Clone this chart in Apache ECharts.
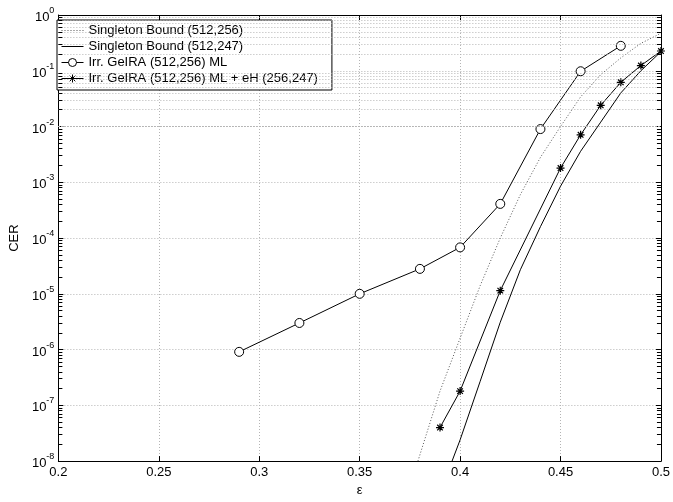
<!DOCTYPE html>
<html>
<head>
<meta charset="utf-8">
<script src="https://cdn.jsdelivr.net/npm/echarts@6/dist/echarts.min.js"></script>
<style>
  html, body { margin: 0; padding: 0; background: #fff; }
  #main { width: 673px; height: 502px; }
</style>
</head>
<body>
<div id="main"></div>
<script>
// series
var names = ['Singleton Bound (512,256)', 'Singleton Bound (512,247)',
             'Irr. GeIRA (512,256) ML', 'Irr. GeIRA (512,256) ML + eH (256,247)'];

var sb256X = [0.379, 0.39, 0.40, 0.41, 0.42, 0.43, 0.44, 0.45, 0.46, 0.47, 0.48, 0.49, 0.50];
var sb256Y = [1e-8, 1.8e-7, 1.6e-6, 1.4e-5, 1.0e-4, 6.0e-4, 2.8e-3, 0.010, 0.034, 0.085, 0.17, 0.31, 0.47];

var sb247X = [0.396, 0.40, 0.41, 0.42, 0.43, 0.44, 0.45, 0.46, 0.47, 0.48, 0.49, 0.50];
var sb247Y = [1e-8, 2.4e-8, 2.7e-7, 3.1e-6, 2.7e-5, 1.6e-4, 8.5e-4, 3.6e-3, 0.012, 0.040, 0.10, 0.22];

var mlX = [0.29, 0.32, 0.35, 0.38, 0.40, 0.42, 0.44, 0.46, 0.48];
var mlY = [9.1e-7, 3.0e-6, 1.0e-5, 2.8e-5, 6.8e-5, 4.1e-4, 9.0e-3, 0.098, 0.28];

var ehX = [0.39, 0.40, 0.42, 0.45, 0.46, 0.47, 0.48, 0.49, 0.50];
var ehY = [4.0e-8, 1.8e-7, 1.14e-5, 1.8e-3, 7.1e-3, 0.024, 0.062, 0.124, 0.226];

function zip(xs, ys) {
  return xs.map(function (x, i) { return [x, ys[i]]; });
}

// minor log grid (2..9 x 10^k) and the little inside ticks
var minorVals = [];
for (var k = -8; k < 0; k++) {
  for (var m = 2; m <= 9; m++) minorVals.push(m * Math.pow(10, k));
}
var gridStyle = { color: '#b4b4b4', type: [1, 2], width: 1 };
var minorGrid = minorVals.map(function (v) { return { yAxis: v }; });
var minorTicks = [];
minorVals.forEach(function (v) {
  minorTicks.push([{ coord: [0.2, v] }, { coord: [0.202, v] }]);
  minorTicks.push([{ coord: [0.498, v] }, { coord: [0.5, v] }]);
});

var font = 'Liberation Sans, Arial, Helvetica, sans-serif';
var starPath = 'path://M5 0L5 10M0 5L10 5M1.5 1.5L8.5 8.5M1.5 8.5L8.5 1.5';

var chart = echarts.init(document.getElementById('main'));
chart.setOption({
  animation: false,
  textStyle: { fontFamily: font, color: '#000' },
  grid: { left: 53, right: 7, top: 15, bottom: 29 },
  legend: {
    orient: 'vertical',
    left: 57, top: 20,
    padding: [4, 14, 5, 4],
    itemWidth: 22, itemHeight: 10, itemGap: 3,
    backgroundColor: '#fff',
    borderColor: '#000', borderWidth: 1, borderRadius: 0,
    lineStyle: { width: 1 },
    itemStyle: { borderWidth: 1 },
    textStyle: { fontSize: 13, color: '#000', fontFamily: font },
    data: [
      { name: names[0], itemStyle: { opacity: 0 } },
      { name: names[1], itemStyle: { opacity: 0 } },
      { name: names[2] },
      { name: names[3] }
    ]
  },
  xAxis: [{
    type: 'value', min: 0.2, max: 0.5, interval: 0.05,
    name: 'ε', nameLocation: 'middle', nameGap: 21,
    nameTextStyle: { fontSize: 13, color: '#000' },
    axisLine: { lineStyle: { color: '#000', width: 1 } },
    axisTick: { inside: true, length: 5, lineStyle: { color: '#000' } },
    axisLabel: { fontSize: 13, color: '#000', margin: 5,
      formatter: function (v) { return String(v); } },
    splitLine: { show: true, lineStyle: gridStyle }
  }, {
    type: 'value', position: 'top', min: 0.2, max: 0.5, interval: 0.05,
    axisLine: { show: true, lineStyle: { color: '#000', width: 1 } },
    axisTick: { inside: true, length: 5, lineStyle: { color: '#000' } },
    axisLabel: { show: false }, splitLine: { show: false }
  }],
  yAxis: [{
    type: 'log', logBase: 10, min: 1e-8, max: 1, interval: 1,
    name: 'CER', nameLocation: 'middle', nameGap: 34,
    nameTextStyle: { fontSize: 13, color: '#000' },
    axisLine: { lineStyle: { color: '#000', width: 1 } },
    axisTick: { inside: true, length: 5, lineStyle: { color: '#000' } },
    axisLabel: {
      margin: 4, color: '#000',
      formatter: function (v) {
        var e = Math.round(Math.log10(v));
        return '{b|10}{s|' + (e < 0 ? '-' + (-e) : e) + '}';
      },
      rich: {
        b: { fontSize: 13, color: '#000', fontFamily: font, verticalAlign: 'bottom' },
        s: { fontSize: 9, color: '#000', fontFamily: font, verticalAlign: 'top', padding: [0, 0, 9, 0] }
      }
    },
    splitLine: { show: true, lineStyle: gridStyle }
  }, {
    type: 'log', logBase: 10, min: 1e-8, max: 1, interval: 1, position: 'right',
    axisLine: { show: true, lineStyle: { color: '#000', width: 1 } },
    axisTick: { inside: true, length: 5, lineStyle: { color: '#000' } },
    axisLabel: { show: false }, splitLine: { show: false }
  }],
  series: [{
    name: names[0], type: 'line', data: zip(sb256X, sb256Y),
    symbol: 'none',
    lineStyle: { color: '#555', width: 1, type: [1, 2] },
    itemStyle: { color: '#555' },
    z: 3,
    markLine: {
      silent: true, symbol: 'none', animation: false,
      label: { show: false },
      lineStyle: gridStyle,
      data: minorGrid
    }
  }, {
    name: names[1], type: 'line', data: zip(sb247X, sb247Y),
    symbol: 'none',
    lineStyle: { color: '#000', width: 1 },
    itemStyle: { color: '#000' },
    z: 3,
    markLine: {
      silent: true, symbol: 'none', animation: false,
      label: { show: false },
      lineStyle: { color: '#000', width: 1, type: 'solid' },
      data: minorTicks
    }
  }, {
    name: names[2], type: 'line', data: zip(mlX, mlY),
    symbol: 'circle', symbolSize: 9,
    lineStyle: { color: '#000', width: 1 },
    itemStyle: { color: '#fff', borderColor: '#000', borderWidth: 1 },
    z: 4
  }, {
    name: names[3], type: 'line', data: zip(ehX, ehY),
    symbol: starPath, symbolSize: 8,
    lineStyle: { color: '#000', width: 1 },
    itemStyle: { color: '#000', borderColor: '#000', borderWidth: 1.2 },
    z: 4
  }]
});
</script>
</body>
</html>
